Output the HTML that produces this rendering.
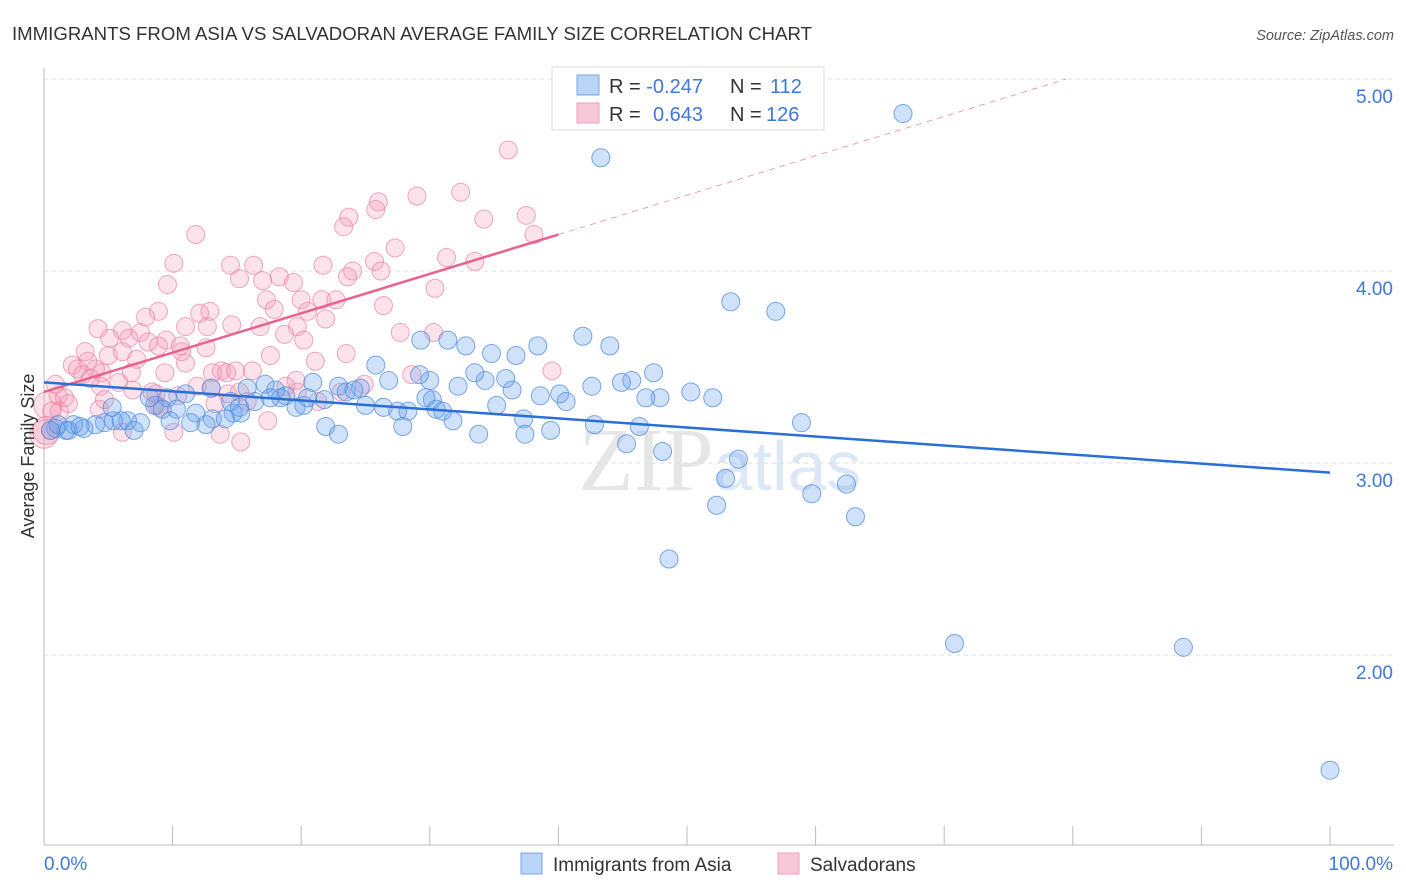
<!DOCTYPE html>
<html><head><meta charset="utf-8"><style>
body{margin:0;background:#fff;font-family:"Liberation Sans",sans-serif;}
#wrap{position:relative;width:1406px;height:892px;overflow:hidden;}
</style></head><body>
<div id="wrap">
<svg id="chart" width="1406" height="892" xmlns="http://www.w3.org/2000/svg">
<text x="12" y="40" font-size="18.5" fill="#333" textLength="800" lengthAdjust="spacingAndGlyphs">IMMIGRANTS FROM ASIA VS SALVADORAN AVERAGE FAMILY SIZE CORRELATION CHART</text>
<text x="1394" y="40" font-size="14.5" fill="#555" font-style="italic" text-anchor="end">Source: ZipAtlas.com</text>
<text x="720" y="490" font-size="90" fill="#e6e6e6" text-anchor="middle" font-family="Liberation Serif,serif">ZIP<tspan fill="#dce8f5" font-family="Liberation Sans,sans-serif" font-size="70">atlas</tspan></text>
<g id="grid"></g>
<g id="axes"></g>
<g id="pts"></g>
<g id="trends"></g>
<text transform="translate(34,456) rotate(-90)" font-size="18" fill="#333" text-anchor="middle">Average Family Size</text>
<g>
<rect x="552" y="67" width="272" height="63" fill="#fff" stroke="#ddd"/>
<rect x="577" y="75" width="22" height="20" fill="#b8d4f6" stroke="#7aa7e0"/>
<rect x="577" y="103" width="22" height="20" fill="#f8c8d6" stroke="#eea0b8"/>
<text x="609" y="93" font-size="20" fill="#333">R = <tspan fill="#3f78d6">-0.247</tspan><tspan x="730">N = </tspan><tspan fill="#3f78d6" x="770">112</tspan></text>
<text x="609" y="121" font-size="20" fill="#333">R = <tspan fill="#3f78d6" x="653">0.643</tspan><tspan x="730">N = </tspan><tspan fill="#3f78d6" x="766">126</tspan></text>
</g>
<g>
<rect x="521" y="853" width="21" height="21" fill="#b8d4f6" stroke="#7aa7e0"/>
<text x="553" y="871" font-size="19" fill="#333">Immigrants from Asia</text>
<rect x="778" y="853" width="21" height="21" fill="#f8c8d6" stroke="#eea0b8"/>
<text x="810" y="871" font-size="19" fill="#333">Salvadorans</text>
</g>
</svg>
</div>
<script>
const yTicks=[2,3,4,5];
const yTickLabels=["2.00","3.00","4.00","5.00"];
const xTickCount=10;
const xTickLabels=["0.0%","100.0%"];
const asiaX=[66.8,43.3,53.4,56.9,44.0,41.9,38.4,32.8,34.8,36.7,31.4,29.3,25.8,47.4,45.7,44.9,42.6,40.1,50.3,52.0,47.9,46.8,40.6,38.6,36.4,35.9,34.3,33.5,32.2,30.0,29.2,26.8,24.6,23.5,22.9,20.9,18.8,18.0,17.2,15.8,16.4,13.0,11.0,9.6,8.6,9.2,10.3,13.1,14.7,15.3,11.8,11.4,14.5,19.6,20.2,18.4,21.8,24.1,25.0,26.4,27.5,28.3,30.2,29.7,30.5,31.0,31.8,27.9,35.2,33.8,37.3,37.4,39.4,42.8,45.3,46.3,48.1,54.0,53.0,52.3,59.7,62.4,63.1,48.6,58.9,70.8,88.6,100,21.9,22.9,6.5,7.0,4.7,4.0,3.1,2.3,1.7,0.9,0.5,1.1,5.4,6.0,7.5,8.2,9.8,12.6,14.1,15.2,17.6,20.5,5.3,1.9,2.8];
const asiaY=[4.82,4.59,3.84,3.79,3.61,3.66,3.61,3.61,3.57,3.56,3.64,3.64,3.51,3.47,3.43,3.42,3.40,3.36,3.37,3.34,3.34,3.34,3.32,3.35,3.38,3.44,3.43,3.47,3.40,3.43,3.46,3.43,3.39,3.37,3.40,3.42,3.35,3.38,3.41,3.39,3.32,3.39,3.36,3.34,3.30,3.28,3.28,3.23,3.26,3.26,3.26,3.21,3.32,3.29,3.30,3.34,3.33,3.38,3.30,3.29,3.27,3.27,3.33,3.34,3.28,3.27,3.22,3.19,3.30,3.15,3.23,3.15,3.17,3.20,3.10,3.19,3.06,3.02,2.92,2.78,2.84,2.89,2.72,2.50,3.21,2.06,2.04,1.40,3.19,3.15,3.22,3.17,3.21,3.20,3.18,3.20,3.17,3.18,3.17,3.20,3.22,3.22,3.21,3.34,3.22,3.20,3.23,3.29,3.34,3.34,3.29,3.17,3.19];
const salvX=[36.1,32.4,29.0,26.0,23.7,23.3,25.8,34.2,37.5,38.1,11.8,31.3,33.5,27.3,24.0,23.6,25.7,26.2,21.7,14.5,16.3,18.3,19.4,10.1,15.2,17.0,9.6,12.1,12.9,8.9,7.9,4.2,6.1,7.5,5.1,6.6,8.1,11.0,12.7,14.6,16.8,17.9,20.0,21.6,22.7,20.5,19.7,21.9,27.7,30.3,26.4,30.4,17.3,18.7,20.2,17.6,23.5,21.1,12.6,10.7,9.5,8.9,11.0,7.2,5.0,6.1,4.5,4.0,3.4,2.2,2.6,3.0,3.6,4.4,5.8,6.8,3.2,6.9,8.7,9.0,10.4,13.1,13.8,14.2,14.9,16.2,13.0,13.3,14.3,15.8,17.4,19.7,21.3,23.1,24.9,28.6,39.5,8.8,8.4,4.3,0.9,0.3,0.6,1.1,1.6,1.2,0.2,0,1.9,4.7,10.1,13.7,15.3,11.9,15.2,18.8,19.6,0.5,6.1,9.4,10.6];
const salvY=[4.63,4.41,4.39,4.36,4.28,4.23,4.32,4.27,4.29,4.19,4.19,4.07,4.05,4.12,4.00,3.97,4.05,4.00,4.03,4.03,4.03,3.97,3.94,4.04,3.96,3.95,3.93,3.78,3.79,3.79,3.76,3.70,3.69,3.68,3.65,3.65,3.63,3.71,3.71,3.72,3.71,3.80,3.85,3.85,3.85,3.79,3.71,3.75,3.68,3.68,3.82,3.91,3.85,3.67,3.64,3.56,3.57,3.53,3.60,3.58,3.64,3.61,3.52,3.54,3.56,3.58,3.47,3.49,3.53,3.51,3.49,3.46,3.44,3.40,3.42,3.47,3.58,3.38,3.36,3.29,3.35,3.47,3.48,3.47,3.48,3.48,3.39,3.31,3.36,3.32,3.22,3.37,3.32,3.37,3.41,3.46,3.48,3.30,3.37,3.28,3.41,3.30,3.27,3.35,3.34,3.27,3.17,3.15,3.31,3.33,3.16,3.15,3.11,3.40,3.37,3.40,3.43,3.17,3.16,3.47,3.61];
const asiaTrend=[3.42,2.95];
const salvTrend=[3.37,4.19];
const salvTrendEnd=40;
const yMax=5;

const NS="http://www.w3.org/2000/svg";
const X0=44,X1=1330,YBASE=463,YPX=192;
function xs(p){return X0+(X1-X0)*p/100;}
function ys(v){return YBASE-(v-3)*YPX;}
function mk(tag,attrs,parent){const e=document.createElementNS(NS,tag);for(const k in attrs)e.setAttribute(k,attrs[k]);parent.appendChild(e);return e;}
const grid=document.getElementById('grid'),axes=document.getElementById('axes'),pts=document.getElementById('pts'),tr=document.getElementById('trends');
yTicks.forEach((v,i)=>{
  const l=mk('line',{x1:X0,x2:1394,y1:ys(v),y2:ys(v),stroke:'#ddd','stroke-dasharray':'4,4'},grid);
  
  
  const t=mk('text',{x:1393,y:ys(v)+24,'font-size':19,fill:'#3f78d6','text-anchor':'end'},axes);
  t.textContent=yTickLabels[i];
  
  
});
const ax=mk('line',{x1:X0,x2:X0,y1:68,y2:845,stroke:'#bbb'},axes);


const bx=mk('line',{x1:X0,x2:1394,y1:845,y2:845,stroke:'#bbb'},axes);


for(let i=0;i<=xTickCount;i++){
  const x=xs(i*100/xTickCount);
  const t=mk('line',{x1:x,x2:x,y1:826,y2:845,stroke:'#bbb'},axes);
  
  
}
const xl0=mk('text',{x:44,y:870,'font-size':19,fill:'#3f78d6'},axes);xl0.textContent=xTickLabels[0];


const xl1=mk('text',{x:1393,y:870,'font-size':19,fill:'#3f78d6','text-anchor':'end'},axes);xl1.textContent=xTickLabels[1];


salvX.forEach((x,i)=>{
  const c=mk('circle',{cx:xs(x),cy:ys(salvY[i]),r:(x<0.4?14:9),fill:'rgba(244,150,180,0.28)',stroke:'rgba(236,130,165,0.7)','stroke-width':1},pts);
  
  
});
asiaX.forEach((x,i)=>{
  const c=mk('circle',{cx:xs(x),cy:ys(asiaY[i]),r:9,fill:'rgba(110,165,235,0.32)',stroke:'rgba(80,140,220,0.75)','stroke-width':1},pts);
  
  
});
const slope=(salvTrend[1]-salvTrend[0])/salvTrendEnd;
let pEnd=(yMax-salvTrend[0])/slope; if(pEnd>100)pEnd=100;
const vEnd=salvTrend[0]+slope*pEnd;
const d=mk('line',{x1:xs(salvTrendEnd),y1:ys(salvTrend[1]),x2:xs(pEnd),y2:ys(vEnd),stroke:'#eaa0b8','stroke-dasharray':'6,5','stroke-width':1},tr);


const p=mk('line',{x1:xs(0),y1:ys(salvTrend[0]),x2:xs(salvTrendEnd),y2:ys(salvTrend[1]),stroke:'#e8628c','stroke-width':2.5},tr);


const b=mk('line',{x1:xs(0),y1:ys(asiaTrend[0]),x2:xs(100),y2:ys(asiaTrend[1]),stroke:'#2a6fd6','stroke-width':2.5},tr);


</script>
</body></html>
